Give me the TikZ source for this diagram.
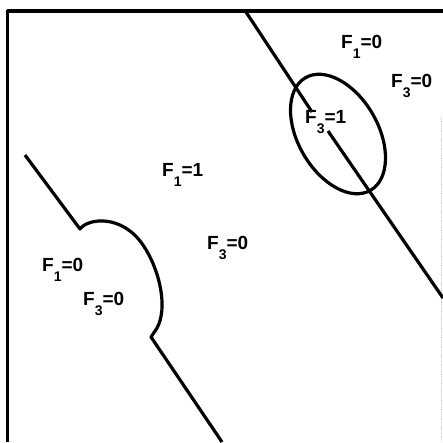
\documentclass[tikz,border=0pt]{standalone}
\usepackage{fontspec}
\setmainfont{Liberation Sans}
\newcommand{\lowidx}[1]{\raisebox{-10pt}{\fontsize{14}{14}\selectfont #1}}
\begin{document}
\begin{tikzpicture}[x=1pt, y=-1pt, every node/.style={font=\fontsize{19}{19}\selectfont\bfseries}]
  \tikzstyle{bound}=[line width=3.2pt, line join=round]
  \tikzstyle{lbl}=[inner sep=0pt, anchor=base west]
  \useasboundingbox (0,0) rectangle (443,442);
  % frame
  \draw[line width=3.4pt] (7,11) -- (443,11);
  \draw[line width=3pt] (7,10) -- (7,442);
  \draw[gray!40, line width=0.8pt, densely dotted] (441.5,117) -- (441.5,442);
  % upper decision line, broken by the label
  \draw[bound] (246,12) -- (312,112);
  \draw[bound] (328,131) -- (443,298);
  \draw[bound, shift={(338,134)}, rotate=-60] (0,0) ellipse (65pt and 40pt);
  % lower decision line with the bulge
  \draw[bound] (25,155) -- (80,229)
    .. controls (88,218) and (122,214) .. (143,245)
    .. controls (160,270) and (168,308) .. (157,328)
    -- (151,337) -- (222,442);
  % labels
  \node[lbl] (fa) at (341,48) {F\lowidx{1}=0};
  \node[lbl] (fb) at (391,87) {F\lowidx{3}=0};
  \node[lbl] (fc) at (305,123) {F\lowidx{3}=1};
  \node[lbl] (fd) at (162,176) {F\lowidx{1}=1};
  \node[lbl] (fe) at (207,249) {F\lowidx{3}=0};
  \node[lbl] (ff) at (42,271) {F\lowidx{1}=0};
  \node[lbl] (fg) at (83,305) {F\lowidx{3}=0};
\end{tikzpicture}
\end{document}
